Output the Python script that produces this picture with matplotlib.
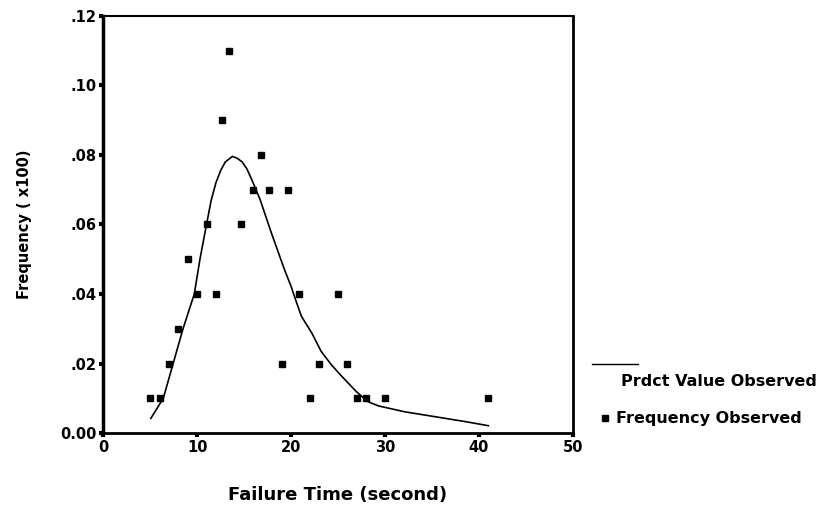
import matplotlib
matplotlib.use("Agg")
import matplotlib.pyplot as plt
from matplotlib.lines import Line2D

plt.rcParams['font.family'] = ['DejaVu Sans']

# Observed frequency points
obs_x = [5, 6, 7, 8, 9, 10, 11, 12, 12.6, 13.4, 14.7, 15.9, 16.8, 17.7, 19.7,
         19, 20.8, 25, 23, 26, 22, 27, 28, 30, 41]
obs_y = [0.01, 0.01, 0.02, 0.03, 0.05, 0.04, 0.06, 0.04, 0.09, 0.11, 0.06, 0.07,
         0.08, 0.07, 0.07, 0.02, 0.04, 0.04, 0.02, 0.02, 0.01, 0.01, 0.01, 0.01, 0.01]

# Predicted curve
fit_x = [5.07, 5.6, 6.4, 7.45, 8.5, 9.7, 10.3, 11.0, 11.5, 12.0, 12.5, 13.0,
         13.76, 14.3, 14.8, 15.3, 15.8, 16.7, 17.9, 19.3, 20.0, 20.6, 21.1,
         22.2, 23.2, 24.3, 25.4, 26.95, 28.2, 29.3, 32.1, 35.3, 38.5, 41.0]
fit_y = [0.0042, 0.0065, 0.010, 0.020, 0.030, 0.040, 0.050, 0.060, 0.067,
         0.072, 0.0755, 0.078, 0.0796, 0.079, 0.078, 0.076, 0.073, 0.0672,
         0.0576, 0.047, 0.0422, 0.0374, 0.0336, 0.0288, 0.0235, 0.0196, 0.0163,
         0.0119, 0.009, 0.0078, 0.0061, 0.0047, 0.0033, 0.0021]

x_ticks = [0, 10, 20, 30, 40, 50]
y_ticks = [0.00, 0.02, 0.04, 0.06, 0.08, 0.10, 0.12]
y_tick_labels = ['0.00', '.02', '.04', '.06', '.08', '.10', '.12']

fig = plt.figure(figsize=(8.22, 5.09), dpi=100)
ax = fig.add_axes([0.1255, 0.1493, 0.5715, 0.8193])

ax.plot(fit_x, fit_y, color='black', lw=1.2)
ax.plot(obs_x, obs_y, linestyle='none', marker='s', markersize=4.5,
        color='black')

ax.set_xlim(0, 50)
ax.set_ylim(0, 0.12)
ax.set_xticks(x_ticks)
ax.set_xticklabels([str(t) for t in x_ticks])
ax.set_yticks(y_ticks)
ax.set_yticklabels(y_tick_labels)

for lab in ax.get_xticklabels() + ax.get_yticklabels():
    lab.set_fontweight('bold')
    lab.set_fontsize(10.5)

ax.tick_params(axis='both', direction='out', length=3, width=3, pad=2)
ax.spines['left'].set_linewidth(2.5)
ax.spines['bottom'].set_linewidth(2.0)
ax.spines['top'].set_linewidth(1.5)
ax.spines['right'].set_linewidth(2.0)

ax.set_xlabel('Failure Time (second)', fontsize=13, fontweight='bold',
              labelpad=22)
ax.set_ylabel('Frequency ( x100)', fontsize=10.5, fontweight='bold',
              labelpad=20)

# Legend outside, SPSS style
fig.add_artist(Line2D([592/822, 638/822], [1 - 364/509, 1 - 364/509],
                      color='black', lw=1.0))
fig.text(621/822, 1 - 381/509, 'Prdct Value Observed', fontsize=11.5,
         fontweight='bold', va='center', ha='left')
fig.add_artist(Line2D([605/822], [1 - 418/509], marker='s', markersize=4.5,
                      color='black', linestyle='none'))
fig.text(616/822, 1 - 418/509, 'Frequency Observed', fontsize=11.5,
         fontweight='bold', va='center', ha='left')

fig.savefig('out.png', dpi=100)
